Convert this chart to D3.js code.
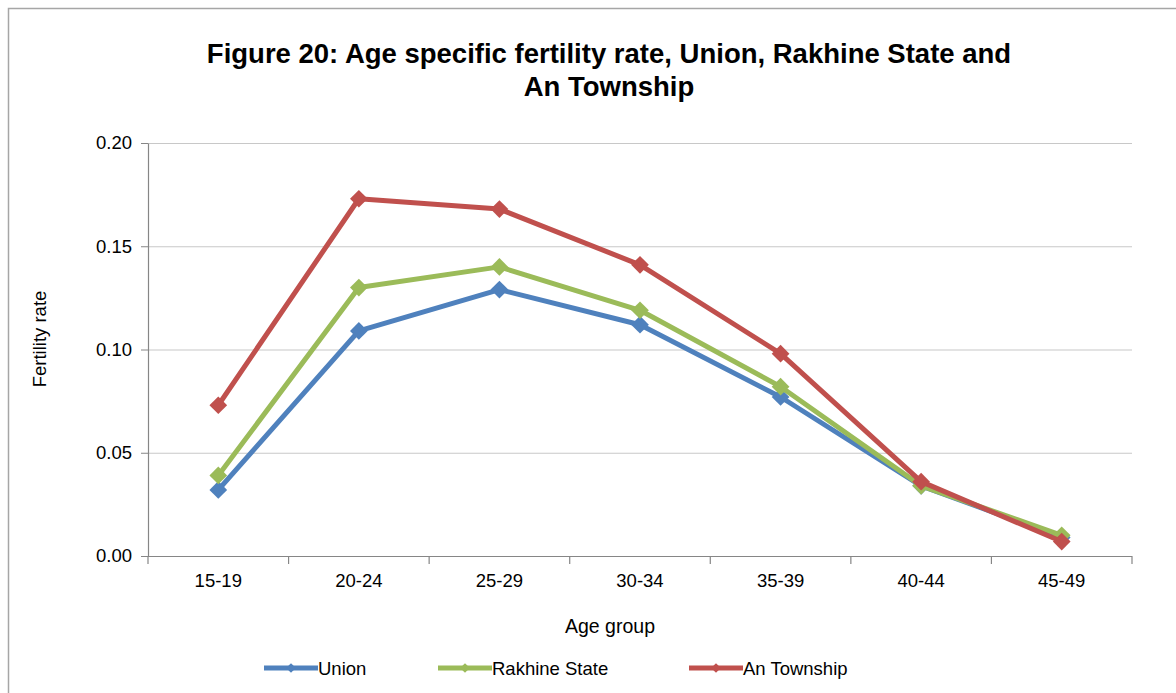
<!DOCTYPE html>
<html>
<head>
<meta charset="utf-8">
<script src="https://cdn.jsdelivr.net/npm/d3@7/dist/d3.min.js"></script>
<style>
  body { margin: 0; background: #fff; }
  text { font-family: "Liberation Sans", Arial, sans-serif; fill: #000; }
</style>
</head>
<body>
<div id="chart"></div>
<script>
// data
var ageGroups = ["15-19", "20-24", "25-29", "30-34", "35-39", "40-44", "45-49"];
var unionRates = [0.032, 0.109, 0.129, 0.112, 0.077, 0.034, 0.009];
var rakhineRates = [0.039, 0.130, 0.140, 0.119, 0.082, 0.034, 0.010];
var anTownshipRates = [0.073, 0.173, 0.168, 0.141, 0.098, 0.036, 0.007];
var yTicks = [0, 0.05, 0.10, 0.15, 0.20];
var seriesNames = ["Union", "Rakhine State", "An Township"];
var seriesColors = ["#4F81BD", "#9BBB59", "#C0504D"];

var series = [
    { name: seriesNames[0], color: seriesColors[0], values: unionRates },
    { name: seriesNames[1], color: seriesColors[1], values: rakhineRates },
    { name: seriesNames[2], color: seriesColors[2], values: anTownshipRates }
];

var width = 1176, height = 693,
    margin = { top: 143, right: 44, bottom: 137, left: 148 },
    innerW = width - margin.left - margin.right,
    innerH = height - margin.top - margin.bottom,
    labelSize = 18.5;

var svg = d3.select("#chart").append("svg")
    .attr("width", width)
    .attr("height", height);

// chart border
svg.append("rect")
    .attr("x", 8.5).attr("y", 8.5)
    .attr("width", 1200).attr("height", 720)
    .attr("fill", "#fff")
    .attr("stroke", "#A6A6A6").attr("stroke-width", 1.5);

// title
var title = svg.append("text")
    .attr("text-anchor", "middle")
    .attr("font-size", 27.5)
    .attr("font-weight", "bold");
title.append("tspan").attr("x", 609).attr("y", 63)
    .text("Figure 20: Age specific fertility rate, Union, Rakhine State and");
title.append("tspan").attr("x", 609).attr("y", 96)
    .text("An  Township");

var g = svg.append("g")
    .attr("transform", "translate(" + margin.left + "," + margin.top + ")");

var x = d3.scaleBand().domain(ageGroups).range([0, innerW]);
var y = d3.scaleLinear().domain([0, 0.2]).range([innerH, 0]);

// gridlines
g.append("g").selectAll("line").data(yTicks.slice(1)).enter()
    .append("line")
    .attr("x1", 0).attr("x2", innerW)
    .attr("y1", function(d) { return y(d) + 0.5; })
    .attr("y2", function(d) { return y(d) + 0.5; })
    .attr("stroke", "#C8C8C8").attr("stroke-width", 1.2);

// y axis
var yAxis = d3.axisLeft(y).tickValues(yTicks).tickFormat(d3.format(".2f"))
    .tickSizeInner(7).tickSizeOuter(0).tickPadding(9);
var yg = g.append("g").call(yAxis);
yg.attr("font-size", labelSize).attr("font-family", null);
yg.selectAll("text").attr("fill", "#000");
yg.selectAll("line").attr("stroke", "#868686");
yg.select(".domain").attr("stroke", "#868686").attr("stroke-width", 1.2);

// x axis (ticks between categories)
var xg = g.append("g").attr("transform", "translate(0," + innerH + ")");
xg.append("line").attr("x1", 0).attr("x2", innerW).attr("y1", 0.5).attr("y2", 0.5)
    .attr("stroke", "#868686").attr("stroke-width", 1.2);
var bounds = ageGroups.map(function(d) { return x(d); }).concat([innerW]);
xg.selectAll(".tk").data(bounds).enter().append("line")
    .attr("x1", function(d) { return d; }).attr("x2", function(d) { return d; })
    .attr("y1", 0).attr("y2", 8)
    .attr("stroke", "#868686").attr("stroke-width", 1.2);
xg.selectAll(".lbl").data(ageGroups).enter().append("text")
    .attr("x", function(d) { return x(d) + x.bandwidth() / 2; })
    .attr("y", 31)
    .attr("text-anchor", "middle")
    .attr("font-size", labelSize)
    .text(function(d) { return d; });

// axis titles
svg.append("text")
    .attr("x", 610).attr("y", 633)
    .attr("text-anchor", "middle")
    .attr("font-size", 19.5)
    .text("Age group");
svg.append("text")
    .attr("transform", "translate(46,339) rotate(-90)")
    .attr("text-anchor", "middle")
    .attr("font-size", 18.5)
    .text("Fertility rate");

// lines
var line = d3.line()
    .x(function(d, i) { return x(ageGroups[i]) + x.bandwidth() / 2; })
    .y(function(d) { return y(d); });

var diamond = d3.symbol().type(d3.symbolDiamond2).size(200);

series.forEach(function(s) {
    g.append("path")
        .datum(s.values)
        .attr("d", line)
        .attr("fill", "none")
        .attr("stroke", s.color)
        .attr("stroke-width", 5)
        .attr("stroke-linejoin", "round");
    g.selectAll(null).data(s.values).enter().append("path")
        .attr("d", diamond)
        .attr("transform", function(d, i) {
            return "translate(" + (x(ageGroups[i]) + x.bandwidth() / 2) + "," + y(d) + ")";
        })
        .attr("fill", s.color);
});

// legend
var legendX = [264, 438, 689];
var lg = svg.append("g").attr("transform", "translate(0,668)");
series.forEach(function(s, i) {
    var item = lg.append("g").attr("transform", "translate(" + legendX[i] + ",0)");
    item.append("line").attr("x1", 0).attr("x2", 54).attr("y1", 0).attr("y2", 0)
        .attr("stroke", s.color).attr("stroke-width", 5);
    item.append("path").attr("d", d3.symbol().type(d3.symbolDiamond2).size(60))
        .attr("transform", "translate(27,0)").attr("fill", s.color);
    item.append("text").attr("x", 54).attr("y", 7)
        .attr("font-size", labelSize).text(s.name);
});
</script>
</body>
</html>
